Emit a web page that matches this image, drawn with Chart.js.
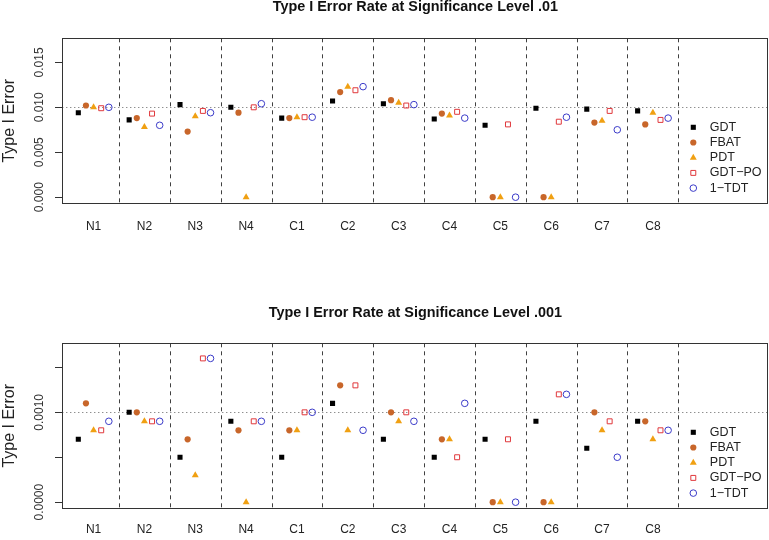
<!DOCTYPE html>
<html><head><meta charset="utf-8">
<script src="https://cdn.jsdelivr.net/npm/chart.js@4/dist/chart.umd.min.js"></script>
<style>
html,body{margin:0;padding:0;background:#fff;}
#wrap{position:relative;width:769px;height:540px;overflow:hidden;}
.panel{position:absolute;left:0;width:769px;height:270px;}
canvas{display:block;}
</style></head><body>
<div id="wrap">
<div class="panel" style="top:0"><canvas id="c1" width="769" height="270"></canvas></div>
<div class="panel" style="top:270px"><canvas id="c2" width="769" height="270"></canvas></div>
</div>
<script>
// ---------- DATA ----------
const categories = ["N1","N2","N3","N4","C1","C2","C3","C4","C5","C6","C7","C8"];
const seriesNames = ["GDT","FBAT","PDT","GDT\u2212PO","1\u2212TDT"];
const seriesOffsets = [-0.3,-0.15,0,0.15,0.3];

// Significance level .01
const gdt01   = [0.0094,0.0086,0.0103,0.0100,0.0088,0.0107,0.0104,0.0087,0.0080,0.0099,0.0098,0.0096];
const fbat01  = [0.0102,0.0088,0.0073,0.0094,0.0088,0.0117,0.0108,0.0093,0.0000,0.0000,0.0083,0.0081];
const pdt01   = [0.0100,0.0078,0.0090,0.0000,0.0089,0.0123,0.0105,0.0091,0.0000,0.0000,0.0085,0.0094];
const gdtpo01 = [0.0099,0.0093,0.0096,0.0100,0.0089,0.0119,0.0102,0.0095,0.0081,0.0084,0.0096,0.0086];
const tdt01   = [0.0100,0.0080,0.0094,0.0104,0.0089,0.0123,0.0103,0.0088,0.0000,0.0089,0.0075,0.0088];

// Significance level .001
const gdt001   = [0.0007,0.0010,0.0005,0.0009,0.0005,0.0011,0.0007,0.0005,0.0007,0.0009,0.0006,0.0009];
const fbat001  = [0.0011,0.0010,0.0007,0.0008,0.0008,0.0013,0.0010,0.0007,0.0000,0.0000,0.0010,0.0009];
const pdt001   = [0.0008,0.0009,0.0003,0.0000,0.0008,0.0008,0.0009,0.0007,0.0000,0.0000,0.0008,0.0007];
const gdtpo001 = [0.0008,0.0009,0.0016,0.0009,0.0010,0.0013,0.0010,0.0005,0.0007,0.0012,0.0009,0.0008];
const tdt001   = [0.0009,0.0009,0.0016,0.0009,0.0010,0.0008,0.0009,0.0011,0.0000,0.0012,0.0005,0.0008];

// Axis ticks
const yTicks01 = [0,0.005,0.010,0.015];
const yTickLabels01 = ["0.000","0.005","0.010","0.015"];
const yTicks001 = [0,0.0005,0.0010,0.0015];
const yTickLabels001 = ["0.0000","","0.0010",""];
const refLevel01 = 0.01;
const refLevel001 = 0.001;
const title01 = "Type I Error Rate at Significance Level .01";
const title001 = "Type I Error Rate at Significance Level .001";
const yAxisTitle = "Type I Error";

// ---------- STYLE ----------
const FONT = "'Liberation Sans', Arial, Helvetica, sans-serif";
const styles = [
  {pointStyle:'rect', radius:3.6, bg:'#000000', border:'#000000', bw:0},
  {pointStyle:'circle', radius:3.1, bg:'#C8662A', border:'#C8662A', bw:0},
  {pointStyle:'triangle', radius:4.0, bg:'#F0A012', border:'#F0A012', bw:0},
  {pointStyle:'rect', radius:3.5, bg:'rgba(0,0,0,0)', border:'#E0383C', bw:1},
  {pointStyle:'circle', radius:3.3, bg:'rgba(0,0,0,0)', border:'#3A3AC8', bw:1}
];

function makeDatasets(seriesList){
  return seriesList.map((vals,si)=>({
    label: seriesNames[si],
    data: vals.map((v,gi)=>({x: gi+1+seriesOffsets[si], y: v})),
    showLine:false,
    pointStyle: styles[si].pointStyle,
    pointRadius: styles[si].radius,
    pointBackgroundColor: styles[si].bg,
    pointBorderColor: styles[si].border,
    pointBorderWidth: styles[si].bw
  }));
}

const decorPlugin = {
  id:'decor',
  beforeDatasetsDraw(chart, args, o){
    const ctx = chart.ctx, a = chart.chartArea;
    const xs = chart.scales.x, ys = chart.scales.y;
    ctx.save();
    // group separators
    ctx.strokeStyle = '#404040'; ctx.lineWidth = 1; ctx.setLineDash([4,4]);
    for(let i=0;i<categories.length;i++){
      const px = Math.round(xs.getPixelForValue(i+1.5))+0.5;
      ctx.beginPath(); ctx.moveTo(px,a.top); ctx.lineTo(px,a.bottom); ctx.stroke();
    }
    // reference level
    ctx.strokeStyle = '#606060'; ctx.setLineDash([1,3]);
    const py = Math.round(ys.getPixelForValue(o.ref))+0.5;
    ctx.beginPath(); ctx.moveTo(a.left,py); ctx.lineTo(a.right,py); ctx.stroke();
    ctx.restore();
  },
  afterDraw(chart, args, o){
    const ctx = chart.ctx, a = chart.chartArea;
    const xs = chart.scales.x, ys = chart.scales.y;
    ctx.save();
    ctx.setLineDash([]);
    // box
    ctx.strokeStyle = '#333333'; ctx.lineWidth = 1;
    ctx.strokeRect(Math.round(a.left)+0.5, Math.round(a.top)+0.5, Math.round(a.right-a.left)-1, Math.round(a.bottom-a.top));
    // title centred over the plot box
    ctx.fillStyle = '#111111';
    ctx.font = 'bold 14.4px ' + FONT;
    ctx.textAlign = 'center'; ctx.textBaseline = 'middle';
    ctx.fillText(o.title, (a.left+a.right)/2, o.titleY);
    // y ticks
    ctx.fillStyle = '#333333';
    ctx.font = '12px ' + FONT;
    o.ticks.forEach((t,i)=>{
      const py = Math.round(ys.getPixelForValue(t))+0.5;
      ctx.beginPath(); ctx.moveTo(Math.round(a.left)-7, py); ctx.lineTo(Math.round(a.left)+0.5, py); ctx.stroke();
      if(o.tickLabels[i]){
        ctx.save(); ctx.translate(40, ys.getPixelForValue(t)); ctx.rotate(-Math.PI/2);
        ctx.fillText(o.tickLabels[i],0,0); ctx.restore();
      }
    });
    // y axis title
    ctx.fillStyle = '#222222';
    ctx.font = '16px ' + FONT;
    ctx.save(); ctx.translate(10, (a.top+a.bottom)/2); ctx.rotate(-Math.PI/2);
    ctx.fillText(yAxisTitle,0,0); ctx.restore();
    // category labels
    ctx.fillStyle = '#222222';
    ctx.font = '12px ' + FONT;
    categories.forEach((c,i)=>{
      ctx.fillText(c, xs.getPixelForValue(i+1), a.bottom + o.catGap);
    });
    // legend
    ctx.font = '12.5px ' + FONT;
    ctx.textAlign = 'left';
    const mx = a.right - 75, tx = a.right - 58.5;
    seriesNames.forEach((n,i)=>{
      const y = a.top + 89 + i*15.2;
      const s = styles[i];
      ctx.fillStyle = s.bg; ctx.strokeStyle = s.border; ctx.lineWidth = s.bw;
      Chart.helpers.drawPoint(ctx, {pointStyle:s.pointStyle, radius:s.radius, borderWidth:s.bw, rotation:0}, mx, y);
      ctx.fillStyle = '#222222';
      ctx.fillText(n, tx, y);
    });
    ctx.restore();
  }
};

function makeChart(id, seriesList, ymin, ymax, ref, ticks, tickLabels, title, topH, titleY, bottomH, catGap){
  return new Chart(document.getElementById(id), {
    type:'scatter',
    data:{datasets: makeDatasets(seriesList)},
    options:{
      responsive:false, animation:false, events:[],
      devicePixelRatio:1,
      layout:{autoPadding:false, padding:{left:0,right:0.7,top:topH,bottom:0}},
      plugins:{
        legend:{display:false}, tooltip:{enabled:false}, title:{display:false},
        decor:{ref:ref, ticks:ticks, tickLabels:tickLabels, catGap:catGap, title:title, titleY:titleY}
      },
      scales:{
        x:{type:'linear', min:0.385, max:14.27,
           ticks:{display:false}, grid:{display:false}, border:{display:false},
           afterFit:(s)=>{s.height = bottomH;}},
        y:{type:'linear', min:ymin, max:ymax,
           ticks:{display:false}, grid:{display:false}, border:{display:false},
           afterFit:(s)=>{s.width = 62.3;}}
      }
    },
    plugins:[decorPlugin]
  });
}

makeChart('c1', [gdt01,fbat01,pdt01,gdtpo01,tdt01], -0.00068, 0.01768, refLevel01,
  yTicks01, yTickLabels01, title01, 38.3, 7.2, 66.7, 23.4);
makeChart('c2', [gdt001,fbat001,pdt001,gdtpo001,tdt001], -0.000068, 0.001768, refLevel001,
  yTicks001, yTickLabels001, title001, 73.3, 43.5, 31.7, 21.7);
</script>
</body></html>
